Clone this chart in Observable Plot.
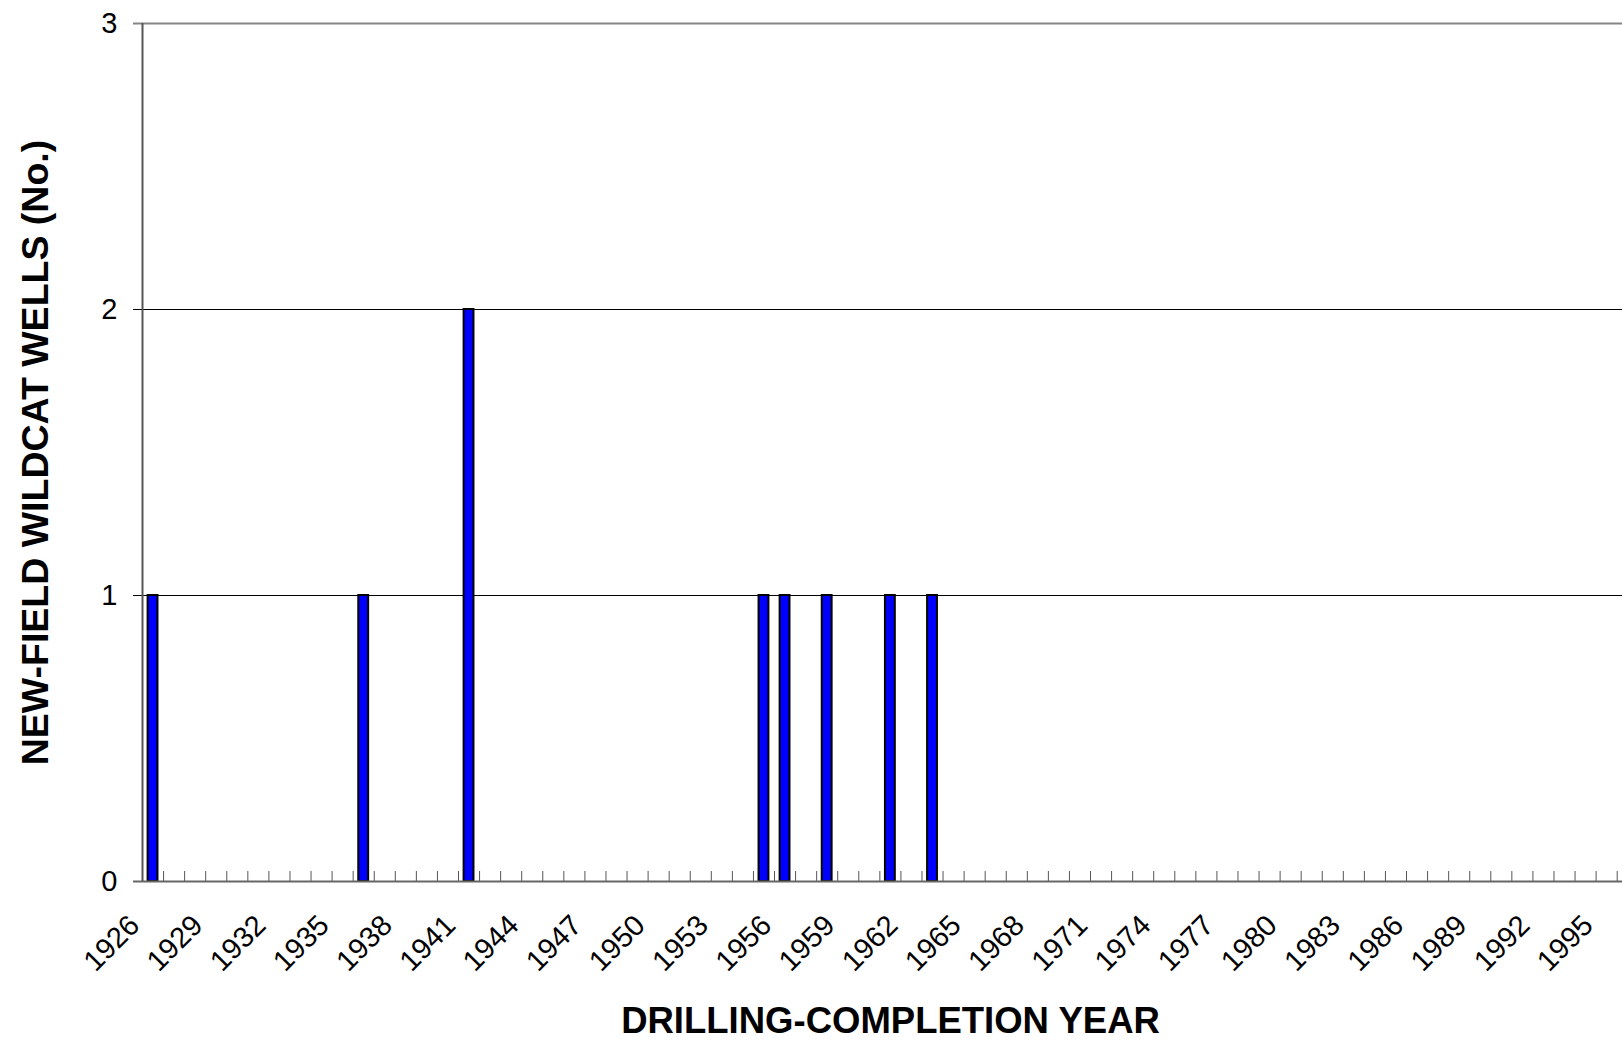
<!DOCTYPE html>
<html>
<head>
<meta charset="utf-8">
<script src="https://cdn.jsdelivr.net/npm/d3@7"></script>
<script src="https://cdn.jsdelivr.net/npm/@observablehq/plot@0.6"></script>
<style>
  html, body { margin: 0; padding: 0; background: #fff; overflow: hidden; }
  #chart svg { overflow: hidden; font-family: "Liberation Sans", Arial, sans-serif; }
</style>
</head>
<body>
<div id="chart"></div>
<script>
// Category range (years), first and one-past-last shown on the axis
const yearStart = 1926;
const yearEnd = 1997;
// Years with new-field wildcat wells and their counts
const wellYears = [1926, 1936, 1941, 1955, 1956, 1958, 1961, 1963];
const wellCounts = [1, 1, 2, 1, 1, 1, 1, 1];
// X tick labels (every third year)
const xTickLabels = [1926, 1929, 1932, 1935, 1938, 1941, 1944, 1947, 1950, 1953, 1956, 1959, 1962, 1965, 1968, 1971, 1974, 1977, 1980, 1983, 1986, 1989, 1992, 1995];
// Y ticks
const yTicks = [0, 1, 2, 3];
const gridValues = [1, 2];
const xTitle = "DRILLING-COMPLETION YEAR";
const yTitle = "NEW-FIELD WILDCAT WELLS (No.)";

const bars = wellYears.map((y, i) => ({year: y, count: wellCounts[i]}));
const boundaries = d3.range(yearStart + 1, yearEnd);

const font = '"Liberation Sans", Arial, sans-serif';

const chart = Plot.plot({
  width: 1622,
  height: 1042,
  marginTop: 23,
  marginBottom: 161,
  marginLeft: 142,
  marginRight: 0,
  style: {fontFamily: font, background: "#fff"},
  x: {domain: [yearStart, yearEnd], range: [142, 142 + 71 * 21.067], axis: null},
  y: {domain: [0, 3], axis: null},
  marks: [
    // gridlines
    Plot.ruleY(gridValues, {x1: yearStart, x2: yearEnd, insetLeft: -9, stroke: "#000", strokeWidth: 1}),
    // top line
    Plot.ruleY([3], {x1: yearStart, x2: yearEnd, insetLeft: -9, stroke: "#858585", strokeWidth: 2}),
    // bars
    Plot.rectY(bars, {x1: "year", x2: d => d.year + 1, y1: 0, y2: "count", insetLeft: 5.6, insetRight: 5.6, fill: "#0000ff", stroke: "#000", strokeWidth: 2}),
    // category boundary ticks
    Plot.ruleX(boundaries, {x: d => d, y1: 0, y2: 0, insetTop: -10, stroke: "#555", strokeWidth: 1}),
    // x axis line
    Plot.ruleY([0], {x1: yearStart, x2: yearEnd, insetLeft: -9, stroke: "#666", strokeWidth: 2}),
    // y axis line
    Plot.ruleX([yearStart], {y1: 0, y2: 3, stroke: "#555", strokeWidth: 2}),
    // y tick labels
    Plot.text(yTicks, {x: yearStart, y: d => d, text: d => String(d), dx: -25, textAnchor: "end", lineAnchor: "middle", fontSize: 29, fill: "#000"}),
    // x tick labels
    Plot.text(xTickLabels, {x: d => d + 0.5, y: 0, text: d => String(d), rotate: -45, textAnchor: "end", lineAnchor: "middle", dx: -18.5, dy: 39, fontSize: 29, fill: "#000"}),
    // x title
    Plot.text([xTitle], {frameAnchor: "bottom", text: d => d, textAnchor: "middle", lineAnchor: "middle", dx: 8, dy: 140, fontSize: 36.5, fontWeight: "bold", fill: "#000"}),
    // y title
    Plot.text([yTitle], {frameAnchor: "left", text: d => d, rotate: -90, textAnchor: "middle", lineAnchor: "middle", dx: -107, fontSize: 37.5, fontWeight: "bold", fill: "#000"})
  ]
});
document.getElementById("chart").append(chart);
</script>
</body>
</html>
